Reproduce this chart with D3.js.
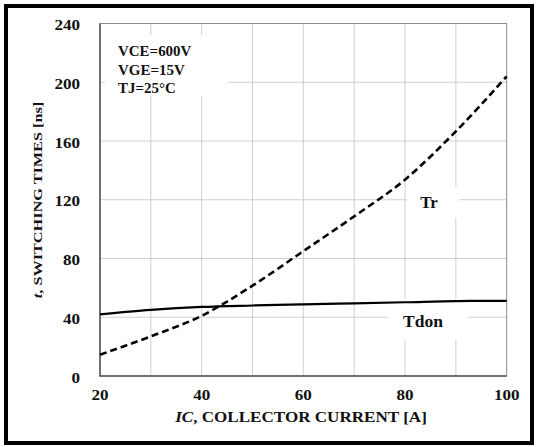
<!DOCTYPE html>
<html lang="en">

<head>
  <meta charset="utf-8" />
  <title>Switching Times vs Collector Current</title>
  <script src="https://d3js.org/d3.v7.min.js"></script>
  <style>
    body {
      margin: 0;
      background: white;
    }

    text {
      font-family: "Liberation Serif", "Times New Roman", serif;
      font-weight: bold;
      fill: #111;
    }

    .grid line {
      stroke: #cfcfcf;
      stroke-width: 1px;
    }
  </style>
</head>

<body>
  <svg width="536" height="447"></svg>

  <script>
    const currents = [20, 30, 40, 50, 60, 70, 80, 90, 100];
    const trTimes = [14.5, 27, 41, 61.5, 85, 108.7, 133.7, 166.6, 204];
    const tdonTimes = [42, 45, 47, 48, 48.8, 49.5, 50.2, 51, 51.2];

    const xTicks = [20, 40, 60, 80, 100];
    const yTicks = [0, 40, 80, 120, 160, 200, 240];
    const conditions = ["VCE=600V", "VGE=15V", "TJ=25°C"];

    const svg = d3.select("svg");
    const stretch = 1.22; // source picture is widened horizontally

    const x = d3.scaleLinear().domain([20, 100]).range([100, 506.7]);
    const y = d3.scaleLinear().domain([0, 240]).range([376, 23.5]);

    // outer frame
    svg.append("rect")
      .attr("x", 6).attr("y", 6)
      .attr("width", 526).attr("height", 437)
      .attr("fill", "white")
      .attr("stroke", "#000")
      .attr("stroke-width", 4);

    // gridlines
    const grid = svg.append("g").attr("class", "grid");
    grid.selectAll(".vx")
      .data(d3.range(30, 100, 10))
      .join("line")
      .attr("x1", d => x(d)).attr("x2", d => x(d))
      .attr("y1", y(240)).attr("y2", y(0));
    grid.selectAll(".hy")
      .data(yTicks.slice(1, -1))
      .join("line")
      .attr("x1", x(20)).attr("x2", x(100))
      .attr("y1", d => y(d)).attr("y2", d => y(d));

    // plot border
    svg.append("rect")
      .attr("x", x(20)).attr("y", y(240))
      .attr("width", x(100) - x(20)).attr("height", y(0) - y(240))
      .attr("fill", "none")
      .attr("stroke", "#8a8a8a")
      .attr("stroke-width", 1);
    svg.append("path")
      .attr("d", `M${x(20)},${y(240)}V${y(0)}H${x(100)}`)
      .attr("fill", "none")
      .attr("stroke", "#555")
      .attr("stroke-width", 1.5);

    // white boxes behind labels
    function whiteBox(x0, y0, x1, y1) {
      svg.append("rect")
        .attr("x", x0).attr("y", y0)
        .attr("width", x1 - x0).attr("height", y1 - y0)
        .attr("fill", "white");
    }
    whiteBox(105, 35, 228, 96);
    whiteBox(407, 187, 459, 218);
    whiteBox(388, 299, 468, 340);

    // tick labels
    svg.append("g").selectAll("text")
      .data(yTicks)
      .join("text")
      .attr("transform", d => `translate(80,${y(d) + 6.5}) scale(${stretch},1)`)
      .attr("text-anchor", "end")
      .attr("font-size", 14)
      .text(d => d);

    svg.append("g").selectAll("text")
      .data(xTicks)
      .join("text")
      .attr("transform", d => `translate(${x(d)},400) scale(${stretch},1)`)
      .attr("text-anchor", "middle")
      .attr("font-size", 14)
      .text(d => d);

    // axis titles
    const xt = svg.append("text")
      .attr("transform", `translate(301,422) scale(${stretch},1)`)
      .attr("text-anchor", "middle")
      .attr("font-size", 14);
    xt.append("tspan").attr("font-style", "italic").text("IC");
    xt.append("tspan").text(", COLLECTOR CURRENT [A]");

    const yt = svg.append("text")
      .attr("transform", "translate(42,200) rotate(-90) scale(1.3,1)")
      .attr("text-anchor", "middle")
      .attr("font-size", 12.5);
    yt.append("tspan").attr("font-style", "italic").text("t");
    yt.append("tspan").text(", SWITCHING TIMES [ns]");

    // test conditions
    svg.append("g").selectAll("text")
      .data(conditions)
      .join("text")
      .attr("transform", (d, i) => `translate(118,${56 + i * 18.7}) scale(1.07,1)`)
      .attr("font-size", 14)
      .text(d => d);

    // curves
    const line = d3.line()
      .x((d, i) => x(currents[i]))
      .y(d => y(d))
      .curve(d3.curveMonotoneX);

    svg.append("path")
      .datum(tdonTimes)
      .attr("d", line)
      .attr("fill", "none")
      .attr("stroke", "#000")
      .attr("stroke-width", 2.2);

    svg.append("path")
      .datum(trTimes)
      .attr("d", line)
      .attr("fill", "none")
      .attr("stroke", "#000")
      .attr("stroke-width", 2.6)
      .attr("stroke-dasharray", "7,4");

    // curve labels
    svg.append("text")
      .attr("x", 429).attr("y", 207.5)
      .attr("text-anchor", "middle")
      .attr("font-size", 17)
      .text("Tr");

    svg.append("text")
      .attr("x", 423).attr("y", 326.5)
      .attr("text-anchor", "middle")
      .attr("font-size", 17.5)
      .text("Tdon");
  </script>
</body>

</html>
